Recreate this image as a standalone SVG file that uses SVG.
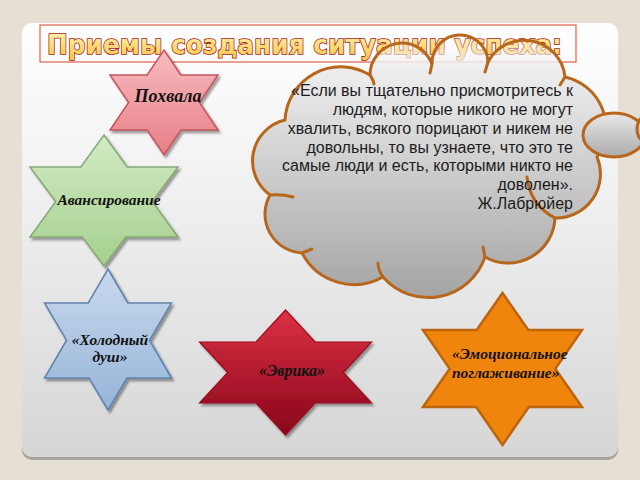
<svg xmlns="http://www.w3.org/2000/svg" width="640" height="480" viewBox="0 0 640 480">
<defs>
<linearGradient id="panelG" x1="0" y1="0" x2="0" y2="1"><stop offset="0" stop-color="#ffffff"/><stop offset="0.5" stop-color="#ececec"/><stop offset="1" stop-color="#d6d6d6"/></linearGradient>
<linearGradient id="cloudG" gradientUnits="userSpaceOnUse" x1="0" y1="35" x2="0" y2="305"><stop offset="0" stop-color="#ffffff" stop-opacity="0"/><stop offset="0.12" stop-color="#eeeeee" stop-opacity="1"/><stop offset="1" stop-color="#a2a2a2"/></linearGradient>
<linearGradient id="bubbleG" x1="0" y1="0" x2="0" y2="1"><stop offset="0" stop-color="#e8e8e8"/><stop offset="1" stop-color="#ababab"/></linearGradient>
<linearGradient id="titleG" x1="0" y1="0" x2="0" y2="1"><stop offset="0" stop-color="#fff6b8"/><stop offset="1" stop-color="#f7c64a"/></linearGradient>
<linearGradient id="pinkG" x1="0" y1="0" x2="0" y2="1"><stop offset="0" stop-color="#f8bcc0"/><stop offset="1" stop-color="#e77e86"/></linearGradient>
<linearGradient id="greenG" x1="0" y1="0" x2="0" y2="1"><stop offset="0" stop-color="#d2ebc4"/><stop offset="1" stop-color="#a4d08e"/></linearGradient>
<linearGradient id="blueG" x1="0" y1="0" x2="0" y2="1"><stop offset="0" stop-color="#c8d9ed"/><stop offset="1" stop-color="#96b4d8"/></linearGradient>
<linearGradient id="redG" x1="0" y1="0" x2="0" y2="1"><stop offset="0" stop-color="#dc3244"/><stop offset="1" stop-color="#88041a"/></linearGradient>
<filter id="sh" x="-10%" y="-10%" width="130%" height="130%"><feDropShadow dx="2" dy="2.5" stdDeviation="1.2" flood-color="#000" flood-opacity="0.38"/></filter>
</defs>
<style>
.lbl{font-family:"Liberation Serif","Times New Roman",serif;font-weight:bold;font-style:italic;fill:#111}
.quote{font-family:"Liberation Sans",Arial,sans-serif;font-size:16px;fill:#1c1c1c;text-anchor:end}
.cl{fill:none;stroke:#b8661c;stroke-width:3;stroke-linecap:round}
</style>
<rect width="640" height="480" fill="#e5dfd4"/>
<rect x="22" y="26" width="596" height="434" rx="10" fill="#a9a49b"/>
<rect x="22" y="23" width="596" height="434" rx="10" fill="url(#panelG)"/>
<g id="title">
<rect x="40" y="25" width="536" height="37" fill="none" stroke="#e2604e" stroke-width="1.2"/>
<text x="47" y="53.5" textLength="515" lengthAdjust="spacingAndGlyphs" font-family="DejaVu Sans, sans-serif" font-weight="bold" font-size="27" fill="url(#titleG)" stroke="#a51a1a" stroke-width="1.6" paint-order="stroke">Приемы создания ситуации успеха:</text>
</g>
<g id="cloud">
<path d="M285,120 A56,56 0 0 1 370,75 A32,32 0 0 1 432,64 A28,28 0 0 1 488,62 A41,41 0 0 1 565,77 A52,52 0 0 1 597,157 A44,44 0 0 1 555,218 A47,47 0 0 1 485,257 A60,60 0 0 1 383,277 A59,59 0 0 1 302,253 A39,39 0 0 1 270,195 A42,42 0 0 1 285,120 Z" fill="url(#cloudG)" stroke="#b8661c" stroke-width="3"/>
<path class="cl" d="M370,75 Q373,79 374,84 M432,64 L430,73 M488,62 L485,72 M565,77 L560,85 M555,218 Q530,205 527,177 M485,257 L483,247 M383,277 Q378,270 378,263 M302,253 L312,249 M270,195 Q282,194 293,197"/>
<text class="quote"><tspan x="573" y="96">«Если вы тщательно присмотритесь к</tspan><tspan x="573" y="114.8">людям, которые никого не могут</tspan><tspan x="573" y="133.7">хвалить, всякого порицают и никем не</tspan><tspan x="573" y="152.5">довольны, то вы узнаете, что это те</tspan><tspan x="573" y="171.3">самые люди и есть, которыми никто не</tspan><tspan x="573" y="190.2">доволен».</tspan><tspan x="573" y="209">Ж.Лабрюйер</tspan></text>
</g>
<g id="bubble">
<ellipse cx="614" cy="135" rx="31" ry="22" fill="url(#bubbleG)" stroke="#b8661c" stroke-width="3"/>
<circle cx="654" cy="129" r="17" fill="url(#bubbleG)" stroke="#b8661c" stroke-width="3"/>
</g>
<g id="star-pohvala">
<polygon points="164,50 180.9,75 218,75 199.4,102.5 218,130 180.9,130 164,155 147.1,130 110,130 128.6,102.5 110,75 147.1,75" fill="url(#pinkG)" stroke="#c4545c" stroke-width="1.5" filter="url(#sh)"/>
<text class="lbl" x="168" y="102" font-size="18" text-anchor="middle">Похвала</text>
</g>
<g id="star-avans">
<polygon points="104,135 127.2,167 178,167 152.2,201.5 178,237 125.7,237 104,266 82.3,237 30,237 55.8,201.5 30,167 80.8,167" fill="url(#greenG)" stroke="#86a876" stroke-width="1.5" filter="url(#sh)"/>
<text class="lbl" x="109" y="205" font-size="15.5" text-anchor="middle">Авансирование</text>
</g>
<g id="star-dush">
<polygon points="108,269 127.8,303 171.5,303 149.5,340.2 171.5,378 127,378 108,410 89,378 44.5,378 66.5,340.2 44.5,303 88.2,303" fill="url(#blueG)" stroke="#5f82aa" stroke-width="1.5" filter="url(#sh)"/>
<text class="lbl" font-size="15.5" text-anchor="middle"><tspan x="110" y="345">«Холодный</tspan><tspan x="110" y="362">душ»</tspan></text>
</g>
<g id="star-evrika">
<polygon points="285.5,310 315.1,342 371.5,342 343.3,372.5 371.5,403 315.1,403 285.5,435 255.9,403 199.5,403 227.7,372.5 199.5,342 255.9,342" fill="url(#redG)" stroke="#9a0c1e" stroke-width="1.2" filter="url(#sh)"/>
<text class="lbl" x="292" y="376" font-size="16" text-anchor="middle">«Эврика»</text>
</g>
<g id="star-emo">
<polygon points="502.5,293 528.3,330 582,330 555.3,368.7 582,407 528.8,407 502.5,445 476.2,407 423,407 449.7,368.7 423,330 476.7,330" fill="#f0850e" stroke="#bd640f" stroke-width="2.5"/>
<text class="lbl" font-size="15.5"><tspan x="452" y="359">«Эмоциональное</tspan><tspan x="452" y="378">поглаживание»</tspan></text>
</g>
<g id="connectors"/>
</svg>
